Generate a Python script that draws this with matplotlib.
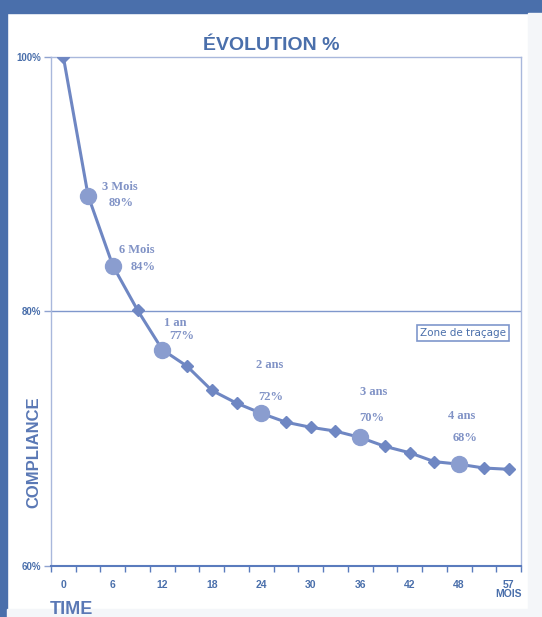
import matplotlib.pyplot as plt
from matplotlib.patches import Rectangle

# Données (une valeur tous les 3 mois environ)
x_labels = ['0', '', '6', '', '12', '', '18', '', '24', '', '30', '', '36', '',
            '42', '', '48', '', '57\nMOIS']
compliance = [100, 89.1, 83.6, 80.1, 77.0, 75.7, 73.8, 72.8, 72.0, 71.3, 70.9,
              70.6, 70.1, 69.4, 68.9, 68.2, 68.0, 67.7, 67.6]
# points mis en évidence (gros ronds) et leurs étiquettes
key_idx = [1, 2, 4, 8, 12, 16]
key_names = ['3 Mois', '6 Mois', '1 an', '2 ans', '3 ans', '4 ans']
key_pct = ['89%', '84%', '77%', '72%', '70%', '68%']
y_ticks = [60, 80, 100]

blue = '#4a6fab'
line_col = '#6f87c3'
dot_col = '#8a9dcf'
lab_col = '#8193c6'
sans = 'Liberation Sans'

fig = plt.figure(figsize=(5.42, 6.17), dpi=100)

# cadre de la capture : bandes bleues en haut / à gauche, gris clair à droite / en bas
fig.patches.append(Rectangle((0, 1 - 13 / 617), 1, 13 / 617, transform=fig.transFigure,
                             color=blue, zorder=0))
fig.patches.append(Rectangle((0, 0), 7 / 542, 1, transform=fig.transFigure,
                             color=blue, zorder=0))
fig.patches.append(Rectangle((528 / 542, 0), 14 / 542, 1 - 13 / 617,
                             transform=fig.transFigure, color='#f4f6f9', zorder=0))
fig.patches.append(Rectangle((7 / 542, 0), 521 / 542, 8 / 617,
                             transform=fig.transFigure, color='#f4f6f9', zorder=0))

ax = fig.add_axes([51 / 542, 1 - 566 / 617, 470 / 542, 509 / 617])
ax.set_facecolor('white')

xs = list(range(len(compliance)))
ax.plot(xs, compliance, color=line_col, lw=2.2, marker='D', markersize=6.5,
        markerfacecolor=line_col, markeredgecolor=line_col, zorder=3)
ax.plot([xs[i] for i in key_idx], [compliance[i] for i in key_idx], 'o',
        color=dot_col, markersize=11.5, zorder=4)

ax.set_xlim(-0.5, len(compliance) - 0.5)
ax.set_ylim(60, 100)

# axe X : catégories, graduations aux limites des catégories
ax.set_xticks(xs)
ax.set_xticklabels(x_labels, fontsize=7.5, fontweight='bold', color=blue,
                   family=sans, linespacing=0.85, va='top')
ax.tick_params(axis='x', length=0, pad=10)
ax.set_xticks([x - 0.5 for x in range(len(compliance) + 1)], minor=True)
ax.tick_params(axis='x', which='minor', length=4, width=1, color='#5a7bbd',
               direction='out')

ax.set_yticks(y_ticks)
ax.set_yticklabels([f'{v}%' for v in y_ticks], fontsize=7, fontweight='bold',
                   color=blue, family=sans)
ax.tick_params(axis='y', length=5, width=1, color='#8fa3d0', pad=2)
ax.axhline(80, color='#7f97cc', lw=1, zorder=1)

for s in ['left', 'top', 'right']:
    ax.spines[s].set_color('#a9b8dc')
    ax.spines[s].set_linewidth(1)
ax.spines['bottom'].set_color('#5a7bbd')
ax.spines['bottom'].set_linewidth(1.5)

# étiquettes des points clés (décalages en points)
name_off = [(23, 6), (17, 11), (9, 19), (6, 35), (10, 33), (2, 35)]
pct_off = [(24, -5), (22, -1), (14, 10), (7, 12), (8, 14), (4, 19)]
for i, nm, pc, no, po in zip(key_idx, key_names, key_pct, name_off, pct_off):
    ax.annotate(nm, (xs[i], compliance[i]), xytext=no, textcoords='offset points',
                ha='center', va='center', fontsize=9, fontweight='bold',
                family='Liberation Serif', color=lab_col)
    ax.annotate(pc, (xs[i], compliance[i]), xytext=po, textcoords='offset points',
                ha='center', va='center', fontsize=9, fontweight='bold',
                family='Liberation Serif', color=lab_col)

ax.text(0.877, 0.458, 'Zone de traçage', transform=ax.transAxes, ha='center',
        va='center', fontsize=7.5, color=blue,
        bbox=dict(boxstyle='square,pad=0.3', fc='white', ec='#7f97cc', lw=1.2))

fig.text(271 / 542, 1 - 46 / 617, 'ÉVOLUTION %', ha='center', va='center',
         fontsize=14, fontweight='bold', color=blue, family=sans)
fig.text(34 / 542, 1 - 452 / 617, 'COMPLIANCE', rotation=90, ha='center',
         va='center', fontsize=12, fontweight='bold', color='#5a78b5', family=sans)
fig.text(50 / 542, 1 - 610 / 617, 'TIME', ha='left', va='center',
         fontsize=13, fontweight='bold', color='#5a78b5', family=sans)

fig.savefig('out.png', dpi=100)
